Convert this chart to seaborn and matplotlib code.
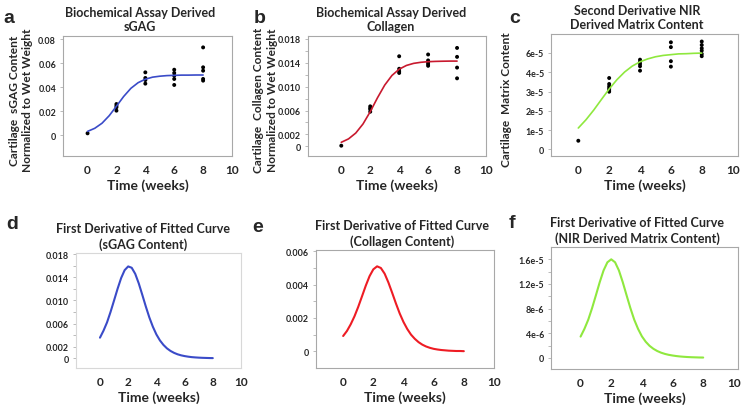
import matplotlib
matplotlib.use("Agg")
import matplotlib.pyplot as plt
from matplotlib.ticker import FixedLocator
import seaborn as sns
import pandas as pd

# ---------------- data ----------------
# measured points (weeks, content)
SGAG_T = [0, 2, 2, 2, 2, 4, 4, 4, 4, 6, 6, 6, 6, 6, 8, 8, 8, 8, 8]
SGAG_Y = [0.0014, 0.0203, 0.0231, 0.0244, 0.0258, 0.0428, 0.0458, 0.0475, 0.0522,
          0.0417, 0.0467, 0.0494, 0.0517, 0.0544, 0.0453, 0.0467, 0.0536, 0.0564, 0.0730]

COLL_T = [0, 2, 2, 2, 2, 4, 4, 4, 4, 6, 6, 6, 6, 6, 8, 8, 8, 8]
COLL_Y = [0.0001, 0.0058, 0.0062, 0.0064, 0.0067, 0.0123, 0.0126, 0.0130, 0.0151,
          0.0135, 0.0138, 0.0141, 0.0144, 0.0154, 0.0114, 0.0132, 0.0150, 0.0165]

NIR_T = [0, 2, 2, 2, 2, 2, 2, 4, 4, 4, 4, 4, 6, 6, 6, 6, 8, 8, 8, 8, 8, 8]
NIR_Y = [0.45e-5, 2.99e-5, 3.08e-5, 3.17e-5, 3.27e-5, 3.39e-5, 3.70e-5,
         4.08e-5, 4.31e-5, 4.43e-5, 4.55e-5, 4.65e-5, 4.29e-5, 4.57e-5, 5.30e-5, 5.55e-5,
         4.83e-5, 4.95e-5, 5.12e-5, 5.24e-5, 5.41e-5, 5.59e-5]

# fitted curves (weeks)
T_FIT = [0, 0.5, 1, 1.5, 2, 2.5, 3, 3.5, 4, 4.5, 5, 5.5, 6, 6.5, 7, 7.5, 8]
SGAG_FIT = [0.0030, 0.0056, 0.0098, 0.0161, 0.0240, 0.0321, 0.0389, 0.0436, 0.0465,
            0.0482, 0.0490, 0.0495, 0.0497, 0.0499, 0.0499, 0.0500, 0.0500]
COLL_FIT = [0.00067, 0.00124, 0.00222, 0.00374, 0.00580, 0.00813, 0.01026, 0.01188, 0.01293,
            0.01356, 0.01391, 0.01409, 0.01419, 0.01424, 0.01427, 0.01429, 0.01429]
NIR_FIT = [1.11e-5, 1.54e-5, 2.04e-5, 2.59e-5, 3.13e-5, 3.61e-5, 4.01e-5, 4.32e-5, 4.54e-5,
           4.69e-5, 4.80e-5, 4.87e-5, 4.91e-5, 4.95e-5, 4.96e-5, 4.98e-5, 4.99e-5]

# first derivative of fitted curves
T_RATE = [0, 0.25, 0.5, 0.75, 1, 1.25, 1.5, 1.75, 2, 2.25, 2.5, 2.75, 3, 3.25, 3.5, 3.75, 4,
          4.25, 4.5, 4.75, 5, 5.25, 5.5, 5.75, 6, 6.25, 6.5, 6.75, 7, 7.25, 7.5, 7.75, 8]
SGAG_RATE = [0.00357, 0.00478, 0.00621, 0.00802, 0.01001, 0.01203, 0.01387, 0.01524, 0.01588,
             0.01565, 0.01460, 0.01295, 0.01098, 0.00896, 0.00707, 0.00546, 0.00413,
             0.00310, 0.00232, 0.00172, 0.00128, 0.00095, 0.00070, 0.00052, 0.00039,
             0.00029, 0.00021, 0.00016, 0.00012, 0.00009, 0.00007, 0.00005, 0.00004]
COLL_RATE = [0.00092, 0.00122, 0.00162, 0.00210, 0.00267, 0.00330, 0.00394, 0.00451, 0.00492,
             0.00510, 0.00500, 0.00466, 0.00413, 0.00351, 0.00287, 0.00227, 0.00176,
             0.00134, 0.00100, 0.00075, 0.00055, 0.00040, 0.00029, 0.00021, 0.00015,
             0.00011, 0.00008, 0.00006, 0.00004, 0.00003, 0.00002, 0.00002, 0.00001]
NIR_RATE = [0.346e-5, 0.471e-5, 0.620e-5, 0.808e-5, 1.017e-5, 1.230e-5, 1.420e-5, 1.552e-5, 1.600e-5,
            1.552e-5, 1.420e-5, 1.230e-5, 1.017e-5, 0.808e-5, 0.620e-5, 0.471e-5, 0.350e-5,
            0.262e-5, 0.196e-5, 0.148e-5, 0.112e-5, 0.085e-5, 0.065e-5, 0.050e-5, 0.039e-5,
            0.030e-5, 0.023e-5, 0.018e-5, 0.014e-5, 0.011e-5, 0.009e-5, 0.007e-5, 0.006e-5]

X_TICKS = [0, 2, 4, 6, 8, 10]

# the NIR axis in the source labels its sixth tick "6e-5"
NIR_TICKS = [0, 1e-5, 2e-5, 3e-5, 4e-5, 5e-5]
NIR_TICK_LABELS = ["0", "1e-5", "2e-5", "3e-5", "4e-5", "6e-5"]

# ---------------- style ----------------
sns.set_style("white")
plt.rcParams["font.family"] = ["Lato", "DejaVu Sans"]
plt.rcParams["font.weight"] = "bold"

BLUE = "#3a4bc8"
RED_DARK = "#c8192e"
RED = "#ee1c24"
GREEN = "#8fe83e"

fig = plt.figure(figsize=(7.41, 4.06), dpi=100)
W, H = 741, 406


def add_ax(left, top, right, bottom):
    return fig.add_axes([left / W, 1 - bottom / H, (right - left) / W, (bottom - top) / H])


def style(ax, xlim, ylim, yticks, ylabels, minor=None, frame="#a8a8a8",
          title="", title_x=0.46, ylabel=None, ylabel_x=-0.18):
    ax.set_xlim(*xlim)
    ax.set_ylim(*ylim)
    ax.set_xticks(X_TICKS)
    ax.set_xticklabels([str(t) for t in X_TICKS], fontsize=8.5, fontweight="bold")
    ax.set_yticks(yticks)
    ax.set_yticklabels(ylabels, fontsize=6.4, fontweight="bold")
    if minor:
        ax.yaxis.set_minor_locator(FixedLocator(minor))
    ax.tick_params(axis="x", length=0, pad=6)
    ax.tick_params(axis="y", which="both", length=2, width=0.6, color="#b0b0b0", pad=3, left=True)
    for sp in ax.spines.values():
        sp.set_visible(True)
        sp.set_color(frame)
        sp.set_linewidth(0.8)
    ax.set_xlabel("Time (weeks)", fontsize=10, fontweight="bold", labelpad=2)
    ax.set_title(title, fontsize=9, fontweight="bold", x=title_x, pad=4, linespacing=1.25)
    if ylabel:
        ax.set_ylabel(ylabel, fontsize=8.6, fontweight="bold", linespacing=1.3)
        ax.yaxis.set_label_coords(ylabel_x, 0.47)
    else:
        ax.set_ylabel("")


# ---------------- top row ----------------
ax_a = add_ax(63, 37, 232, 157)
sns.lineplot(x=T_FIT, y=SGAG_FIT, color=BLUE, linewidth=1.2, ax=ax_a)
sns.scatterplot(x=SGAG_T, y=SGAG_Y, color="black", s=8, edgecolor="none", ax=ax_a)
style(ax_a, (-1.7, 9.85), (-0.0175, 0.0825), [0, 0.02, 0.04, 0.06, 0.08],
      ["0", "0.02", "0.04", "0.06", "0.08"],
      title="Biochemical Assay Derived\nsGAG", title_x=0.455,
      ylabel="Cartilage  sGAG Content\nNormalized to Wet Weight", ylabel_x=-0.175)

ax_b = add_ax(308, 37, 486, 157)
sns.lineplot(x=T_FIT, y=COLL_FIT, color=RED_DARK, linewidth=1.2, ax=ax_b)
sns.scatterplot(x=COLL_T, y=COLL_Y, color="black", s=8, edgecolor="none", ax=ax_b)
style(ax_b, (-2.3, 9.9), (-0.00163, 0.0185), [0, 0.002, 0.006, 0.010, 0.014, 0.018],
      ["0", "0.002", "0.006", "0.010", "0.014", "0.018"],
      minor=[0.004, 0.008, 0.012, 0.016],
      title="Biochemical Assay Derived\nCollagen", title_x=0.466,
      ylabel="Cartilage  Collagen Content\nNormalized to Wet Weight", ylabel_x=-0.17)

ax_c = add_ax(551, 35, 738, 157)
sns.lineplot(x=T_FIT, y=NIR_FIT, color=GREEN, linewidth=1.2, ax=ax_c)
sns.scatterplot(x=NIR_T, y=NIR_Y, color="black", s=8, edgecolor="none", ax=ax_c)
style(ax_c, (-1.77, 10.35), (-0.34e-5, 5.98e-5), NIR_TICKS, NIR_TICK_LABELS,
      title="Second Derivative NIR\nDerived Matrix Content", title_x=0.46,
      ylabel="Cartilage  Matrix Content", ylabel_x=-0.21)

# ---------------- bottom row ----------------
ax_d = add_ax(76, 254, 241, 369)
sns.lineplot(x=T_RATE, y=SGAG_RATE, color=BLUE, linewidth=1.5, ax=ax_d)
style(ax_d, (-1.7, 9.95), (-0.00167, 0.0182), [0, 0.002, 0.006, 0.010, 0.014, 0.018],
      ["0", "0.002", "0.006", "0.010", "0.014", "0.018"],
      minor=[0.004, 0.008, 0.012, 0.016], frame="#d8d8d8",
      title="First Derivative of Fitted Curve\n(sGAG Content)", title_x=0.405)

ax_e = add_ax(316, 251, 494, 369)
sns.lineplot(x=T_RATE, y=COLL_RATE, color=RED, linewidth=1.5, ax=ax_e)
style(ax_e, (-1.8, 9.9), (-0.001, 0.00608), [0, 0.002, 0.004, 0.006],
      ["0", "0.002", "0.004", "0.006"], minor=[0.001, 0.003, 0.005],
      title="First Derivative of Fitted Curve\n(Collagen Content)", title_x=0.485)

ax_f = add_ax(551, 248, 738, 370)
sns.lineplot(x=T_RATE, y=NIR_RATE, color=GREEN, linewidth=1.5, ax=ax_f)
style(ax_f, (-1.93, 10.27), (-0.18e-5, 1.80e-5), [0, 0.4e-5, 0.8e-5, 1.2e-5, 1.6e-5],
      ["0", "4e-6", "8e-6", "1.2e-5", "1.6e-5"], minor=[0.2e-5, 0.6e-5, 1.0e-5, 1.4e-5],
      title="First Derivative of Fitted Curve\n(NIR Derived Matrix Content)", title_x=0.46)

# panel letters
letters = [("a", 3, 23), ("b", 254, 23), ("c", 509, 23), ("d", 6, 229), ("e", 252, 232), ("f", 509, 228)]
for ch, x, y in letters:
    fig.text(x / W, 1 - y / H, ch, fontsize=14, fontweight="bold",
             family=["Liberation Sans", "DejaVu Sans"], va="baseline", ha="left")

fig.savefig("out.png", dpi=100)
